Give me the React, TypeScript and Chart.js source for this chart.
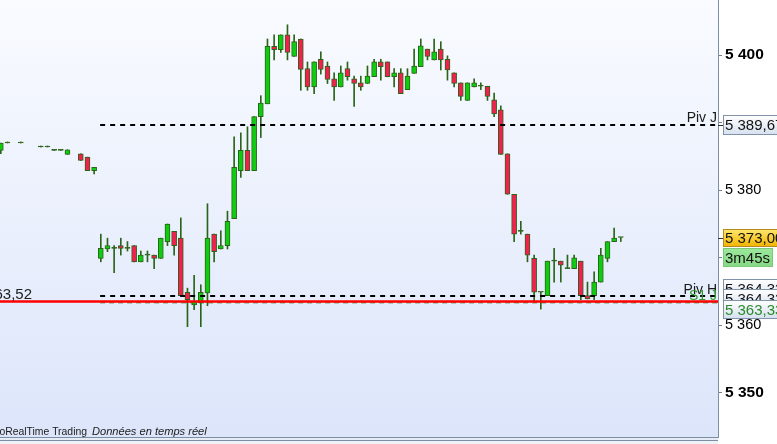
import React, { useEffect, useRef } from 'react';
import { Chart, registerables } from 'chart.js';

Chart.register(...registerables);

const FONT = '"Liberation Sans", Arial, sans-serif';

// Candles (index = bar slot, null = no bar drawn)
const OPEN: (number | null)[] = [
  5385.9, 5387.0, null, 5387.0, null, null, 5386.4, 5386.4, 5385.9, 5385.9,
  5385.3, null, 5385.4, 5384.9, 5382.9, 5369.9, 5371.3, 5371.4, 5371.8, 5371.4,
  5371.8, 5369.4, 5370.4, 5370.4, 5369.9, 5372.4, 5373.9, 5372.9, 5364.9, 5363.0,
  5363.3, 5364.8, 5373.5, 5371.3, 5371.8, 5375.8, 5382.9, 5385.9, 5382.9, 5390.9,
  5392.8, 5401.3, 5400.8, 5403.0, 5399.8, 5402.4, 5398.0, 5395.3, 5399.4, 5398.4,
  5396.5, 5395.3, 5398.0, 5396.5, 5395.9, 5395.8, 5396.8, 5399.0, 5399.0, 5396.8,
  5397.4, 5394.9, 5397.3, 5398.3, 5400.9, 5399.3, 5400.9, 5399.4, 5397.4, 5395.9,
  5393.3, 5395.3, 5395.4, 5395.4, 5393.4, 5391.9, 5385.4, 5379.4, 5373.9, 5373.5,
  5369.9, 5364.9, 5364.4, 5369.5, 5369.5, 5368.4, 5368.4, 5369.5, 5364.4, 5364.4,
  5366.4, 5369.9, 5372.4, 5373.0,
];
const HIGH: (number | null)[] = [
  5387.0, 5387.0, null, 5387.0, null, null, 5386.4, 5386.4, 5385.9, 5385.9,
  5386.0, null, 5385.4, 5384.9, 5383.4, 5373.5, 5372.9, 5371.8, 5372.9, 5372.4,
  5371.8, 5371.0, 5371.0, 5370.4, 5372.9, 5375.0, 5373.9, 5375.9, 5365.5, 5367.4,
  5366.0, 5378.0, 5373.5, 5374.0, 5376.9, 5387.9, 5388.5, 5389.4, 5390.9, 5394.0,
  5402.4, 5403.0, 5403.0, 5404.5, 5403.0, 5402.4, 5399.0, 5399.0, 5400.5, 5399.0,
  5397.4, 5398.4, 5399.0, 5396.9, 5396.9, 5398.4, 5399.4, 5399.4, 5399.0, 5398.0,
  5398.0, 5398.0, 5400.9, 5402.4, 5400.9, 5402.4, 5402.0, 5399.9, 5397.4, 5395.9,
  5395.9, 5396.5, 5395.9, 5395.4, 5394.4, 5392.5, 5385.4, 5379.4, 5375.4, 5373.5,
  5370.4, 5364.9, 5369.5, 5371.4, 5369.5, 5370.4, 5370.4, 5369.5, 5366.4, 5367.9,
  5371.4, 5372.4, 5374.4, 5373.0,
];
const LOW: (number | null)[] = [
  5385.4, 5387.0, null, 5387.0, null, null, 5386.4, 5386.4, 5385.9, 5385.9,
  5385.3, null, 5384.4, 5382.9, 5382.4, 5369.4, 5370.9, 5367.8, 5370.4, 5371.0,
  5369.4, 5369.4, 5369.4, 5368.4, 5369.9, 5371.8, 5370.4, 5364.4, 5359.8, 5362.3,
  5359.8, 5362.9, 5369.4, 5371.3, 5371.3, 5375.8, 5381.9, 5382.9, 5382.9, 5387.8,
  5392.8, 5399.3, 5400.4, 5399.3, 5399.8, 5394.8, 5394.8, 5394.3, 5397.2, 5395.8,
  5393.3, 5395.3, 5396.3, 5392.4, 5394.8, 5395.8, 5396.8, 5396.3, 5396.8, 5395.3,
  5394.3, 5394.9, 5397.3, 5398.3, 5399.3, 5399.3, 5397.8, 5396.3, 5395.3, 5393.3,
  5393.3, 5395.3, 5394.9, 5393.3, 5390.9, 5385.3, 5379.4, 5372.4, 5373.5, 5369.4,
  5363.5, 5362.4, 5364.4, 5366.4, 5366.4, 5368.4, 5368.4, 5363.8, 5363.9, 5363.8,
  5366.4, 5369.4, 5372.4, 5372.4,
];
const CLOSE: (number | null)[] = [
  5387.0, 5387.0, null, 5387.0, null, null, 5386.4, 5386.4, 5385.9, 5385.9,
  5386.0, null, 5384.4, 5382.9, 5383.4, 5371.4, 5371.8, 5371.4, 5371.4, 5371.4,
  5369.4, 5370.4, 5370.4, 5369.9, 5372.9, 5375.0, 5371.8, 5364.4, 5363.8, 5363.5,
  5364.9, 5372.9, 5370.9, 5371.8, 5375.4, 5383.4, 5385.9, 5382.9, 5390.9, 5392.9,
  5401.3, 5400.8, 5403.0, 5400.4, 5402.0, 5397.9, 5395.3, 5399.0, 5397.9, 5396.4,
  5395.3, 5397.4, 5396.8, 5395.8, 5395.3, 5396.9, 5399.0, 5398.3, 5396.8, 5397.4,
  5394.3, 5396.9, 5398.4, 5401.4, 5399.8, 5400.5, 5399.3, 5397.8, 5395.8, 5393.9,
  5395.9, 5395.9, 5395.4, 5393.9, 5391.3, 5385.3, 5379.4, 5373.5, 5373.9, 5370.4,
  5364.9, 5364.9, 5369.5, 5369.5, 5368.9, 5368.4, 5370.0, 5364.4, 5363.9, 5366.4,
  5370.4, 5372.4, 5372.9, 5373.0,
];

// Levels
const PIV_J = 5389.67;
const PIV_H = 5364.33;
const S1_J = 5363.33;
const RED_LEVEL = 5363.52;
const LAST_PRICE = 5373.0;
const COUNTDOWN = '3m45s';

// Axes
const Y_MIN = 5343.46;
const Y_MAX = 5408.17;
const Y_STEP = 10;
const X_MIN = -0.12;
const X_MAX = 107.58;
const DAY_START = 14.9;

const GREEN = '#10cc10';
const RED = '#f3204e';
const EDGE = '#2b6419';

function fmt(v: number, dec = 0): string {
  const s = v.toFixed(dec);
  const [int, frac] = s.split('.');
  const sp = int.replace(/\B(?=(\d{3})+(?!\d))/g, ' ');
  return frac ? sp + ',' + frac : sp;
}

const IDX = OPEN.map((o, i) => (o === null ? -1 : i)).filter((i) => i >= 0);

const bgPlugin = {
  id: 'bgPlugin',
  beforeDraw(chart: any) {
    const { ctx, chartArea: a, width, height } = chart;
    ctx.save();
    ctx.fillStyle = '#ffffff';
    ctx.fillRect(0, 0, width, height);
    const g = ctx.createLinearGradient(0, a.top, 0, a.bottom);
    g.addColorStop(0, '#f9fbff');
    g.addColorStop(1, '#dce5fa');
    ctx.fillStyle = g;
    ctx.fillRect(a.left, a.top, a.right - a.left, a.bottom - a.top);
    ctx.restore();
  },
};

function drawBox(
  ctx: CanvasRenderingContext2D,
  yc: number,
  h: number,
  x0: number,
  x1: number,
  c0: string,
  c1: string,
  stroke: string,
  text: string,
  textColor: string
) {
  const top = Math.round(yc - h / 2) + 0.5;
  const g = ctx.createLinearGradient(0, top, 0, top + h);
  g.addColorStop(0, c0);
  g.addColorStop(1, c1);
  ctx.fillStyle = g;
  ctx.fillRect(x0 + 0.5, top, x1 - x0, h);
  ctx.strokeStyle = stroke;
  ctx.lineWidth = 1;
  ctx.strokeRect(x0 + 0.5, top, x1 - x0, h);
  ctx.fillStyle = textColor;
  ctx.font = `15px ${FONT}`;
  ctx.textAlign = 'left';
  ctx.textBaseline = 'middle';
  ctx.fillText(text, 725, top + h / 2 + 1);
}

const overlayPlugin = {
  id: 'overlayPlugin',
  afterDraw(chart: any) {
    const { ctx, chartArea: a, width, height } = chart;
    const y = (v: number) => chart.scales.y.getPixelForValue(v);
    ctx.save();

    // watermark
    ctx.fillStyle = '#1b1b1b';
    ctx.font = `10.4px ${FONT}`;
    ctx.textAlign = 'right';
    ctx.textBaseline = 'alphabetic';
    ctx.fillText('ProRealTime Trading', 87, 435);
    ctx.font = `italic 11.1px ${FONT}`;
    ctx.textAlign = 'left';
    ctx.fillText('Données en temps réel', 92, 435);

    // level labels
    ctx.font = `14px ${FONT}`;
    ctx.textAlign = 'right';
    ctx.fillStyle = '#1a1a1a';
    ctx.fillText('Piv J', a.right - 1, y(PIV_J) - 2.5);
    ctx.fillText('Piv H', a.right - 1, y(PIV_H) - 2.5);
    ctx.fillStyle = '#2e9a2e';
    ctx.fillText('S1 J', a.right - 1, y(S1_J) - 2.5);
    ctx.font = `15px ${FONT}`;
    ctx.fillStyle = '#202020';
    ctx.fillText(fmt(RED_LEVEL, 2), 32, y(RED_LEVEL) - 2.5);

    // right axis markers
    const x0 = a.right + 5;
    ctx.strokeStyle = '#333';
    ctx.lineWidth = 1;
    [PIV_J, LAST_PRICE].forEach((v) => {
      const py = Math.round(y(v)) + 0.5;
      ctx.beginPath();
      ctx.moveTo(a.right, py);
      ctx.lineTo(a.right + 5, py);
      ctx.stroke();
    });
    drawBox(ctx, y(PIV_J), 19, x0, width + 2, '#ffffff', '#d6e0ef', '#8193a8', fmt(PIV_J, 2), '#111');
    const ly = y(LAST_PRICE);
    drawBox(ctx, ly, 17, x0, width + 2, '#ffe66e', '#f2b400', '#b48c1e', fmt(LAST_PRICE, 2), '#111');
    drawBox(ctx, ly + 19.5, 18, x0, 772, '#9be89b', '#86d986', '#7cc87c', COUNTDOWN, '#111');
    const hy = y(PIV_H);
    drawBox(ctx, hy - 7.8, 18, x0, width + 2, '#ffffff', '#d6e0ef', '#8193a8', fmt(PIV_H, 2), '#111');
    drawBox(ctx, hy + 2.2, 18, x0, width + 2, '#ffffff', '#d6e0ef', '#8193a8', fmt(PIV_H, 2), '#111');
    drawBox(ctx, y(S1_J) + 5.7, 18, x0, width + 2, '#ffffff', '#d6e0ef', '#8193a8', fmt(S1_J, 2), '#2a8a2a');

    // bottom strip
    ctx.fillStyle = '#e6ecf6';
    ctx.fillRect(0, a.bottom, a.right, height - a.bottom);
    ctx.fillStyle = '#eef1f6';
    ctx.fillRect(0, a.bottom + 3.5, a.right, height - a.bottom);
    ctx.strokeStyle = '#7d8da3';
    ctx.beginPath();
    ctx.moveTo(0, a.bottom + 0.5);
    ctx.lineTo(a.right, a.bottom + 0.5);
    ctx.moveTo(0, a.bottom + 3.5);
    ctx.lineTo(a.right, a.bottom + 3.5);
    ctx.stroke();
    ctx.restore();
  },
};

export default function App() {
  const ref = useRef<HTMLCanvasElement | null>(null);

  useEffect(() => {
    document.body.style.margin = '0';
    if (!ref.current) return;

    const wickData = IDX.map((i) => ({ x: i, y: [LOW[i] as number, HIGH[i] as number] }));
    const bodyData = IDX.map((i) => ({ x: i, y: [OPEN[i] as number, CLOSE[i] as number] }));
    const bodyColors = IDX.map((i) => {
      const o = OPEN[i] as number;
      const c = CLOSE[i] as number;
      return c > o ? GREEN : c < o ? RED : EDGE;
    });

    const chart = new Chart(ref.current, {
      type: 'bar',
      data: {
        datasets: [
          {
            type: 'bar',
            data: wickData as any,
            backgroundColor: EDGE,
            borderWidth: 0,
            barThickness: 1,
            minBarLength: 1,
            grouped: false,
            order: 10,
          },
          {
            type: 'bar',
            data: bodyData as any,
            backgroundColor: bodyColors,
            borderColor: EDGE,
            borderWidth: 1,
            borderSkipped: false,
            barThickness: 5,
            minBarLength: 1,
            grouped: false,
            order: 9,
          },
          {
            type: 'line',
            data: [
              { x: DAY_START, y: S1_J },
              { x: X_MAX, y: S1_J },
            ],
            borderColor: '#2f7a1f',
            borderWidth: 1,
            borderDash: [5, 4],
            pointRadius: 0,
            order: 3,
          },
          {
            type: 'line',
            data: [
              { x: X_MIN, y: RED_LEVEL },
              { x: X_MAX, y: RED_LEVEL },
            ],
            borderColor: '#ff0000',
            borderWidth: 2.5,
            pointRadius: 0,
            order: 2,
          },
          {
            type: 'line',
            data: [
              { x: DAY_START, y: PIV_J },
              { x: X_MAX, y: PIV_J },
            ],
            borderColor: '#000000',
            borderWidth: 2,
            borderDash: [5, 5],
            pointRadius: 0,
            order: 1,
          },
          {
            type: 'line',
            data: [
              { x: DAY_START, y: PIV_H },
              { x: X_MAX, y: PIV_H },
            ],
            borderColor: '#000000',
            borderWidth: 2,
            borderDash: [5, 5],
            pointRadius: 0,
            order: 1,
          },
        ] as any,
      },
      options: {
        animation: false,
        responsive: false,
        devicePixelRatio: 1,
        layout: { padding: { left: 0, top: 0, right: 0, bottom: 7 } },
        plugins: { legend: { display: false }, tooltip: { enabled: false } },
        scales: {
          x: {
            type: 'linear',
            min: X_MIN,
            max: X_MAX,
            offset: false,
            display: false,
          },
          y: {
            type: 'linear',
            position: 'right',
            min: Y_MIN,
            max: Y_MAX,
            beginAtZero: false,
            border: { display: true, color: '#7d8fa3', width: 1 },
            grid: {
              drawOnChartArea: false,
              drawTicks: true,
              tickLength: 4,
              tickColor: '#6f8196',
            },
            ticks: {
              stepSize: Y_STEP,
              includeBounds: false,
              padding: 3,
              color: '#000',
              font: (c: any) => {
                const big = c.tick && Math.round(c.tick.value) % 50 === 0;
                return { family: FONT, size: big ? 15.5 : 14.5, weight: big ? 'bold' : 'normal' };
              },
              callback: (v: any) => fmt(Number(v)),
            },
            afterFit: (s: any) => {
              s.width = 59;
              s.paddingTop = 0;
              s.paddingBottom = 0;
            },
          },
        },
      } as any,
      plugins: [bgPlugin, overlayPlugin],
    });

    return () => chart.destroy();
  }, []);

  return (
    <div style={{ position: 'fixed', left: 0, top: 0, width: 777, height: 444 }}>
      <canvas ref={ref} width={777} height={444} style={{ display: 'block' }} />
    </div>
  );
}
